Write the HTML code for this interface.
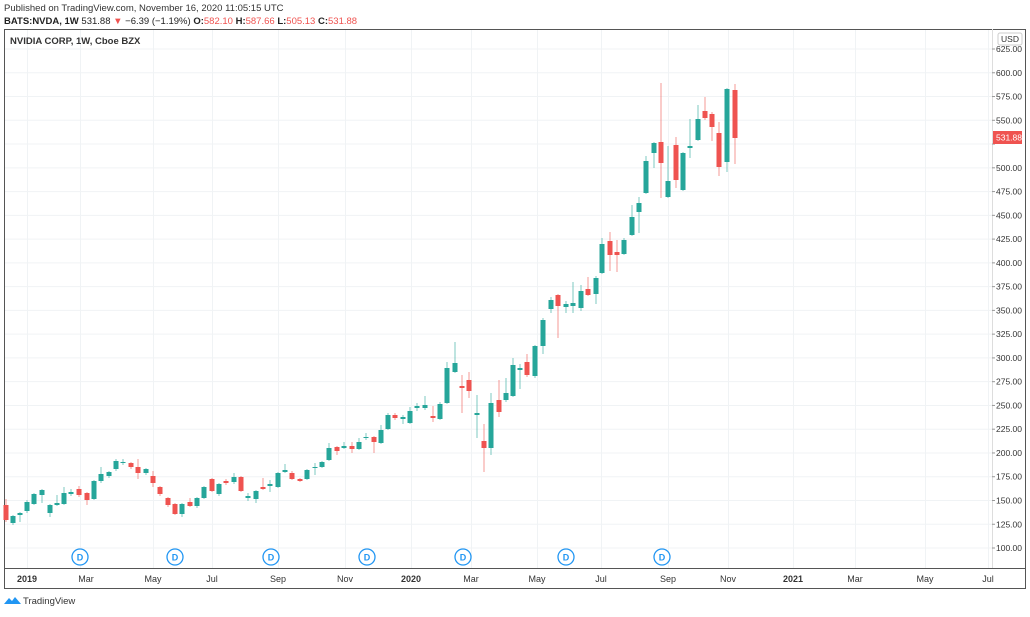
<!DOCTYPE html>
<html><head><meta charset="utf-8"><style>
body{margin:0;width:1030px;height:612px;background:#fff;overflow:hidden;font-family:"Liberation Sans",sans-serif}
</style></head><body>
<svg width="1030" height="612" xmlns="http://www.w3.org/2000/svg" font-family="Liberation Sans, sans-serif">
<text x="4" y="11" font-size="9.5" fill="#333">Published on TradingView.com, November 16, 2020 11:05:15 UTC</text>
<text x="4" y="24" font-size="9.5" fill="#222"><tspan font-weight="bold">BATS:NVDA, 1W</tspan> 531.88 <tspan fill="#ef5350">▼</tspan> −6.39 (−1.19%) <tspan font-weight="bold">O:</tspan><tspan fill="#ef5350">582.10</tspan> <tspan font-weight="bold">H:</tspan><tspan fill="#ef5350">587.66</tspan> <tspan font-weight="bold">L:</tspan><tspan fill="#ef5350">505.13</tspan> <tspan font-weight="bold">C:</tspan><tspan fill="#ef5350">531.88</tspan></text>
<g id="grid" stroke="#f0f3f5" stroke-width="1"></g>
<rect x="4.5" y="29.5" width="1021" height="559" fill="none" stroke="#555"/>
<line x1="4" y1="568.5" x2="1026" y2="568.5" stroke="#555"/>
<line x1="992.5" y1="29" x2="992.5" y2="568" stroke="#ddd"/>
<text x="10" y="44" font-size="9.5" font-weight="bold" fill="#333">NVIDIA CORP, 1W, Cboe BZX</text>
<rect x="998" y="33" width="24" height="12" rx="2" fill="#fff" stroke="#ccc"/>
<text x="1010" y="42" font-size="8.5" fill="#333" text-anchor="middle">USD</text>
<g id="ylab" font-size="8.5" fill="#333"></g>
<g id="candles"></g>
<rect x="993" y="131" width="29" height="13" fill="#ef5350"/>
<text x="996" y="140.5" font-size="8.5" fill="#fff">531.88</text>
<g id="dm" fill="#fff" stroke="#2196f3" stroke-width="1.3"></g>
<g font-size="9" fill="#333" text-anchor="middle">
<text x="27" y="582" font-weight="bold">2019</text><text x="86" y="582">Mar</text><text x="153" y="582">May</text><text x="212" y="582">Jul</text><text x="278" y="582">Sep</text><text x="345" y="582">Nov</text><text x="411" y="582" font-weight="bold">2020</text><text x="471" y="582">Mar</text><text x="537" y="582">May</text><text x="601" y="582">Jul</text><text x="668" y="582">Sep</text><text x="728" y="582">Nov</text><text x="793" y="582" font-weight="bold">2021</text><text x="855" y="582">Mar</text><text x="925" y="582">May</text><text x="988" y="582">Jul</text>
</g>
<path d="M4 604 l5 -6 l3 3 l3 -4 l6 7 z" fill="#2196f3"/>
<text x="23" y="604" font-size="9.5" fill="#333">TradingView</text>
</svg>
<script>
const ns="http://www.w3.org/2000/svg";
function el(p,t,a){const e=document.createElementNS(ns,t);for(const k in a)e.setAttribute(k,a[k]);p.appendChild(e);return e;}
const g=document.getElementById('grid'),yl=document.getElementById('ylab');
[27,80,153,212,278,345,411,471,537,601,668,728,793,855,925,988].forEach(x=>el(g,'line',{x1:x+.5,y1:30,x2:x+.5,y2:568}));
for(let p=100;p<=625;p+=25){const y=49+(625-p)*0.9505;el(g,'line',{x1:5,y1:y,x2:992,y2:y});
 if(p!=525){const t=el(yl,'text',{x:996,y:y+3});t.textContent=p.toFixed(2);}
 el(yl,'line',{x1:992,y1:y,x2:995,y2:y,stroke:'#999'});}
const dm=document.getElementById('dm');
[80,175,271,367,463,566,662].forEach(x=>{el(dm,'circle',{cx:x,cy:557,r:8});const t=el(dm,'text',{x:x,y:560.5,'font-size':9,'font-weight':'bold',fill:'#2196f3',stroke:'none','text-anchor':'middle'});t.textContent='D';});
const C=[[6,505,520,499,522,0],[13,516,523,515,525,1],[20,513,515,512,522,1],[27,502,511,500,513,1],[34,494,504,493,505,1],[42,490,495,489,503,1],[50,505,513,504,517,1],[57,503,505,495,506,1],[64,493,504,487,505,1],[71,492,494,489,496,1],[79,489,495,486,497,0],[87,493,500,492,505,0],[94,481,499,480,500,1],[101,474,481,467,483,1],[109,472,476,471,478,1],[116,461,469,459,471,1],[123,462,463,459,465,1],[131,463,467,462,469,0],[138,467,473,459,479,0],[146,469,473,468,475,1],[153,476,483,471,487,0],[160,487,494,486,496,0],[168,498,505,497,507,0],[175,504,514,503,515,0],[182,504,514,503,517,1],[190,502,506,498,507,0],[197,498,506,497,508,1],[204,487,498,486,499,1],[212,479,491,478,492,0],[219,484,494,483,496,1],[226,481,483,479,485,0],[234,477,482,473,484,1],[241,477,491,476,492,0],[248,496,498,493,501,1],[256,491,499,490,503,1],[263,487,489,478,490,0],[270,484,486,480,492,1],[278,473,487,472,488,1],[285,470,472,464,473,1],[292,473,479,471,480,0],[300,479,481,478,482,0],[307,470,479,469,480,1],[315,467,468,463,475,1],[322,462,467,461,468,1],[329,448,460,443,461,1],[337,447,451,446,455,0],[344,446,448,442,449,1],[352,446,449,442,453,0],[359,442,449,438,450,1],[366,437,438,433,440,1],[374,437,442,436,453,0],[381,430,443,425,444,1],[388,415,429,413,430,1],[395,415,418,413,420,0],[403,417,419,415,424,1],[410,411,423,407,424,1],[417,406,408,403,411,1],[425,405,408,396,410,1],[433,416,418,406,422,0],[440,404,419,402,420,1],[447,368,403,362,404,1],[455,363,372,342,373,1],[462,386,388,375,413,0],[469,380,391,372,398,0],[477,413,415,395,438,1],[484,441,448,424,472,0],[491,403,448,393,455,1],[499,400,412,380,417,0],[506,393,400,378,402,1],[513,365,396,358,397,1],[520,368,370,364,389,1],[527,362,375,354,377,0],[535,346,376,345,378,1],[543,320,346,318,354,1],[551,300,309,297,313,1],[558,295,306,294,338,0],[566,304,307,301,313,1],[573,303,306,282,313,1],[581,291,308,285,311,1],[588,289,295,277,296,0],[596,278,294,276,304,1],[602,244,273,238,274,1],[610,241,255,232,271,0],[617,252,255,240,272,0],[624,240,254,238,255,1],[632,217,235,205,236,1],[639,203,212,197,233,1],[646,161,193,156,194,1],[654,143,153,142,168,1],[661,142,163,83,198,0],[668,181,197,146,198,1],[676,145,180,137,188,0],[683,153,190,152,191,1],[690,146,148,119,158,1],[698,119,140,105,141,1],[705,111,118,97,120,0],[712,114,127,112,141,0],[719,133,167,122,176,0],[727,89,162,88,172,1],[735,90,138,84,164,0]];
const cg=document.getElementById('candles');
C.forEach(c=>{const col=c[5]?'#26a69a':'#ef5350';
 el(cg,'line',{x1:c[0],y1:c[3],x2:c[0],y2:c[4],stroke:col,'stroke-opacity':.6,'stroke-width':1});
 el(cg,'rect',{x:c[0]-2.5,y:c[1],width:5,height:Math.max(1,c[2]-c[1]),fill:col});});
</script>
</body></html>
